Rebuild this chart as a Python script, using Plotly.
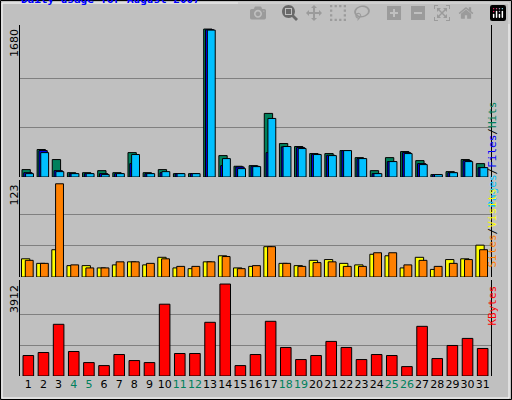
import plotly.graph_objects as go

days = list(range(1, 32))
weekend = {4, 5, 11, 12, 18, 19, 25, 26}
hits = [84,312,198,49,49,72,49,277,49,84,38,38,1680,243,122,129,722,380,346,266,266,300,220,72,220,289,186,27,61,198,152]
files = [49,300,72,38,38,38,38,152,38,49,38,38,1672,129,114,122,277,342,334,258,247,300,209,38,175,277,152,27,49,186,106]
pages = [38,277,61,38,38,27,38,255,38,61,38,38,1668,209,95,118,665,346,323,255,243,300,209,38,175,266,141,27,49,175,106]
visits = [24,18,36,15,15,12,16,20,16,26,12,11,20,28,12,14,40,18,15,22,23,18,16,30,28,12,26,10,23,24,42]
sites = [22,18,123,16,12,12,20,20,18,24,14,14,20,27,11,15,40,18,14,19,20,14,14,32,32,16,22,14,18,23,36]
kbytes = [871,999,2199,1042,571,443,914,657,571,3055,957,957,2284,3912,443,914,2327,1214,700,871,1471,1214,700,914,871,400,2113,742,1299,1599,1171]

GREEN, BLUE, CYAN = "#00805c", "#0000ff", "#00c0ff"
YEL, ORA, RED = "#ffff00", "#ff8000", "#ff0000"
line = dict(color="black", width=1)

fig = go.Figure()
def bar(y, color, off, w, ya):
    fig.add_trace(go.Bar(x=days, y=y, marker=dict(color=color, line=line),
                         offset=off, width=w, xaxis="x", yaxis=ya, showlegend=False))
bar(hits, GREEN, -0.42, 0.55, "y")
bar(files, BLUE, -0.3, 0.55, "y")
bar(pages, CYAN, -0.18, 0.52, "y")
bar(visits, YEL, -0.45, 0.55, "y2")
bar(sites, ORA, -0.2, 0.52, "y2")
bar(kbytes, RED, -0.35, 0.7, "y3")

L, R = 20, 21
PW = 512 - L - R
ticktext = [f"<span style='color:{GREEN}'>{d}</span>" if d in weekend else str(d) for d in days]
grid = dict(showgrid=True, gridcolor="#808080", gridwidth=1, showticklabels=False,
            ticks="", zeroline=False, showline=True, linecolor="black", mirror=True)
fig.update_layout(
    width=512, height=400, barmode="overlay",
    paper_bgcolor="#c0c0c0", plot_bgcolor="#c0c0c0",
    margin=dict(l=L, r=R, t=0, b=0),
    font=dict(family="DejaVu Sans", size=11, color="black"),
    xaxis=dict(range=[0.45, 31.55], tickvals=days, ticktext=ticktext, anchor="y3", tickangle=0,
               showline=False, showgrid=False, zeroline=False, ticks="", tickfont=dict(size=11)),
    yaxis=dict(domain=[0.5575, 0.9375], range=[0, 1726], tickvals=[560, 1120], **grid),
    yaxis2=dict(domain=[0.3075, 0.55], range=[0, 128], tickvals=[41, 82], **grid),
    yaxis3=dict(domain=[0.06, 0.30], range=[0, 4084], tickvals=[1304, 2608], **grid),
)
MONO = "DejaVu Sans Mono"
ann = [
    dict(x=19, y=392, text="<b>Daily usage for August 2007</b>", xanchor="left", yanchor="bottom",
         font=dict(family=MONO, size=11, color="#0000ff")),
    dict(x=14, y=373, text="1680", textangle=-90, xanchor="center", yanchor="top"),
    dict(x=14, y=217, text="123", textangle=-90, xanchor="center", yanchor="top"),
    dict(x=14, y=117, text="3912", textangle=-90, xanchor="center", yanchor="top"),
    dict(x=500, y=300, textangle=-90, font=dict(family=MONO, size=11),
         text=f"<span style='color:{CYAN}'>Pages</span>/<span style='color:{BLUE}'>Files</span>/<span style='color:{GREEN}'>Hits</span>"),
    dict(x=500, y=172, textangle=-90, font=dict(family=MONO, size=11),
         text=f"<span style='color:{ORA}'>Sites</span>/<span style='color:{YEL}'>Visits</span>"),
    dict(x=500, y=72, textangle=-90, font=dict(family=MONO, size=11),
         text=f"<span style='color:{RED}'>KBytes</span>"),
]
for a in ann:
    a.update(xref="paper", yref="paper", showarrow=False)
    a["x"] = (a["x"] - L) / PW
    a["y"] = a["y"] / 400
    a.setdefault("font", dict(size=11, color="black"))
    a["font"].setdefault("color", "black")
def px(x):
    return (x - L) / PW
fig.update_layout(annotations=ann, shapes=[
    dict(type="rect", xref="paper", yref="paper", x0=px(0.5), y0=0.5/400, x1=px(511.5), y1=399.5/400,
         line=dict(color="black", width=1)),
    dict(type="rect", xref="paper", yref="paper", x0=px(2), y0=2/400, x1=px(509), y1=397/400,
         line=dict(color="white", width=1)),
])
fig.write_html("out.html")
with open("out.html") as f:
    html = f.read()
html = html.replace("<body>", "<body style='margin:0;padding:0;overflow:hidden'>", 1)
with open("out.html", "w") as f:
    f.write(html)
